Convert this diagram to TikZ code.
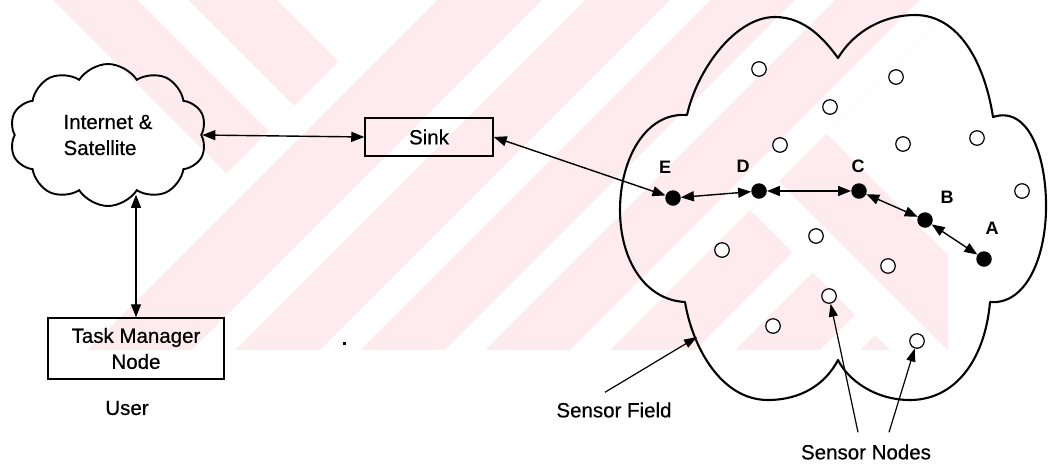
\documentclass[tikz,border=0pt]{standalone}
\usepackage{fontspec}
\setmainfont{Liberation Sans}
\newfontfamily\labelfam{Liberation Sans}[FakeBold=0.5]
\usetikzlibrary{arrows.meta,shapes.symbols}
\definecolor{wmpink}{RGB}{253,235,239}
\newcommand{\diagfont}{\labelfam\fontsize{20.5}{26}\selectfont}
\newcommand{\tagfont}{\bfseries\fontsize{18}{18}\selectfont}
\begin{document}
\begin{tikzpicture}[x=1pt,y=-1pt,
  boxnode/.style={draw=black,line width=1.5pt,rectangle,inner sep=0pt,align=center,font=\diagfont},
  link/.style={line width=1.4pt,{Triangle[length=13pt,width=10pt]}-{Triangle[length=13pt,width=10pt]}},
  pointer/.style={line width=1.2pt,-{Triangle[length=13pt,width=9pt]}},
  active/.style={circle,fill=black,minimum size=15.5pt,inner sep=0pt},
  idle/.style={circle,draw=black,fill=white,line width=1.2pt,minimum size=14.5pt,inner sep=0pt},
  letter/.style={font=\tagfont,inner sep=0pt},
  caption/.style={font=\diagfont,inner sep=2pt}]
\useasboundingbox (0,0) rectangle (1048,464);
\fill[white] (0,0) rectangle (1048,464);

% faint striped background
\begin{scope}
  \clip (53,0) rectangle (948,350);
  \fill[wmpink] (53,0) rectangle (948,350);
  \begin{scope}
    \clip (0,0) -- (400,0) -- (0,400) -- cycle;
    \fill[white] (138,0) -- (188,0) -- (588,400) -- (538,400) -- cycle;
    \fill[white] (277,0) -- (900,0) -- (900,623) -- cycle;
    \fill[white] (-400,0) -- (53,0) -- (453,400) -- (-400,400) -- cycle;
  \end{scope}
  \begin{scope}
    \clip (400,0) -- (1400,0) -- (1400,400) -- (0,400) -- cycle;
    \foreach \c/\w in {400/37,542/43,670/40,795/40,920/40,1045/40,1170/40,1295/40}
      \fill[white] (\c,0) -- (\c+\w,0) -- (\c+\w-400,400) -- (\c-400,400) -- cycle;
  \end{scope}
  \begin{scope}
    \clip (750,210) -- (960,0) -- (1400,0) -- (1400,400) -- (940,400) -- cycle;
    \fill[wmpink] (600,0) rectangle (1400,400);
    \fill[white] (693,0) -- (1400,0) -- (1400,707) -- cycle;
    \fill[white] (540,0) -- (597,0) -- (997,400) -- (940,400) -- cycle;
  \end{scope}
\end{scope}

% user side
\node[cloud, cloud puffs=10, cloud puff arc=115, aspect=1.4, draw=black, line width=1.9pt,
      minimum width=197pt, minimum height=142pt, align=left, font=\diagfont, inner sep=0pt]
      (inet) at (108,135) {Internet \&\\Satellite};
\node[boxnode, minimum width=176pt, minimum height=61pt] (tm) at (136,348.5) {Task Manager\\Node};
\node[caption] (user) at (127,408) {User};
\node[boxnode, minimum width=128pt, minimum height=38pt] (sink) at (429,137) {Sink};

\draw[link] (inet.east) -- (sink.west);
\draw[link] (tm.north) -- (tm.north |- inet.-66);

% stray speck
\fill (343,341.5) rectangle (345.5,345);

% sensor field outline
\draw[line width=2.1pt, line join=round] (687,115)
 .. controls (697,70) and (735,17) .. (775,17)
 .. controls (805,17) and (825,40) .. (838,58)
 .. controls (855,30) and (885,15) .. (915,15)
 .. controls (960,15) and (985,65) .. (993,117)
 .. controls (1030,105) and (1047,160) .. (1046,210)
 .. controls (1045,260) and (1025,305) .. (990,302)
 .. controls (985,360) and (955,400) .. (910,400)
 .. controls (875,400) and (848,380) .. (838,360)
 .. controls (825,385) and (800,400) .. (768,400)
 .. controls (720,400) and (692,345) .. (685,302)
 .. controls (645,300) and (620,260) .. (620,210)
 .. controls (620,160) and (645,112) .. (687,115) -- cycle;

% idle sensors
\node[idle] (o1) at (759,69) {};
\node[idle] (o2) at (896,77) {};
\node[idle] (o3) at (830,107) {};
\node[idle] (o4) at (780,145) {};
\node[idle] (o5) at (903,144) {};
\node[idle] (o6) at (977,138) {};
\node[idle] (o7) at (1022,191) {};
\node[idle] (o8) at (816,236) {};
\node[idle] (o9) at (722,250) {};
\node[idle] (o10) at (888,266) {};
\node[idle] (o11) at (829,296) {};
\node[idle] (o12) at (773,326) {};
\node[idle] (o13) at (917,341) {};

% relay path
\node[active] (E) at (673,198) {};
\node[active] (D) at (759,191) {};
\node[active] (C) at (859,191) {};
\node[active] (B) at (925,220) {};
\node[active] (A) at (984,259) {};
\node[letter] (lE) at (665,167) {E};
\node[letter] (lD) at (743,166) {D};
\node[letter] (lC) at (858,166) {C};
\node[letter] (lB) at (947,197) {B};
\node[letter] (lA) at (992,228) {A};

\draw[link] (sink.east) -- (E);
\draw[link] (E) -- (D);
\draw[link] (D) -- (C);
\draw[link] (C) -- (B);
\draw[link] (B) -- (A);

% callouts
\node[caption] (sfl) at (614,410) {Sensor Field};
\coordinate (sfedge) at (697,337);
\draw[pointer] ([xshift=-9pt,yshift=8pt]sfl.north) -- (sfedge);
\node[caption] (snl) at (866,452) {Sensor Nodes};
\draw[pointer] ([xshift=-8pt,yshift=10pt]snl.north) -- (o11);
\draw[pointer] ([xshift=23pt,yshift=10pt]snl.north) -- (o13);
\end{tikzpicture}
\end{document}
